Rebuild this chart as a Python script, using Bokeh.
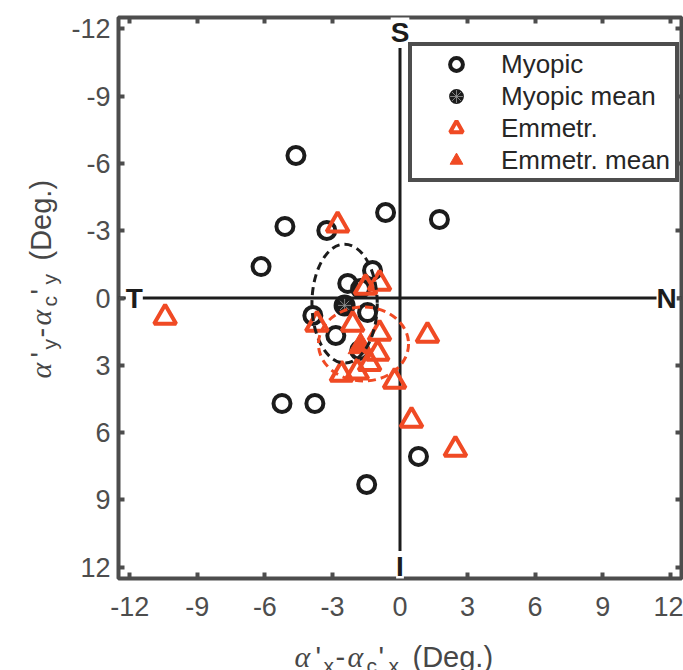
import math
from bokeh.plotting import figure
from bokeh.layouts import column, row
from bokeh.models import (Range1d, Span, Label, Legend, LegendItem, LinearAxis,
                          FixedTicker, ColumnDataSource)
from bokeh.embed import file_html
from bokeh.resources import INLINE

# ---------------- data ----------------
myopic_x = [-4.62, -5.11, -3.25, -0.64, 1.75, -6.17, -2.32, -1.75, -1.22,
            -1.44, -3.87, -2.85, -1.79, -5.24, -3.78, 0.82, -1.48]
myopic_y = [-6.35, -3.19, -3.01, -3.81, -3.50, -1.40, -0.65, -0.42, -1.23,
            0.65, 0.78, 1.67, 2.34, 4.70, 4.70, 7.06, 8.31]
myopic_mean_x = [-2.46]
myopic_mean_y = [0.33]

emm_x = [-10.43, -2.77, -0.91, -1.53, -3.69, -2.10, -0.91, 1.22, -0.99,
         -1.35, -2.60, -1.90, -0.24, 0.51, 2.46]
emm_y = [0.87, -3.25, -0.65, -0.47, 1.18, 1.18, 1.58, 1.67, 2.47,
         2.92, 3.40, 3.30, 3.72, 5.46, 6.75]
emm_mean_x = [-1.75]
emm_mean_y = [2.16]

# dispersion ellipses (centre, full width, full height)
myopic_ell_x = [-2.46]
myopic_ell_y = [0.25]
myopic_ell_w = [2.9]
myopic_ell_h = [5.3]
emm_ell_x = [-1.62]
emm_ell_y = [2.05]
emm_ell_w = [4.0]
emm_ell_h = [3.3]

tick_values = [-12, -9, -6, -3, 0, 3, 6, 9, 12]
tick_labels = ["-12", "-9", "-6", "-3", "0", "3", "6", "9", "12"]

dir_text = ["S", "T", "N", "I"]
dir_x = [0.0, -11.8, 11.84, 0.0]
dir_y = [-11.83, 0.0, 0.0, 11.96]

legend_labels = ["Myopic", "Myopic mean", "Emmetr.", "Emmetr. mean"]

# ---------------- styling ----------------
BLACK = "#1c1c1c"
RED = "#F04A24"
GRAY = "#4d4d4d"
LABEL_COLOR = "#474747"
SANS = "Liberation Sans"


def no_frame_align(f):
    if "frame_align" in type(f).properties():
        f.frame_align = False


p = figure(width=615, height=640,
           x_range=Range1d(-12.5, 12.5), y_range=Range1d(12.5, -12.5),
           output_backend="svg", toolbar_location=None,
           min_border_left=48, min_border_right=2,
           min_border_top=17, min_border_bottom=62)
no_frame_align(p)
p.grid.visible = False
p.background_fill_color = "white"
p.border_fill_color = "white"
p.outline_line_color = GRAY
p.outline_line_width = 4
p.outline_line_alpha = 1.0

overrides = {v: t for v, t in zip(tick_values, tick_labels)}


def style_axis(ax, show_labels=True):
    ax.ticker = FixedTicker(ticks=tick_values)
    ax.axis_line_color = None
    ax.major_tick_in = 6
    ax.major_tick_out = 0
    ax.major_tick_line_width = 4
    ax.major_tick_line_color = GRAY
    ax.minor_tick_line_color = None
    if show_labels:
        ax.major_label_overrides = overrides
        ax.major_label_text_font = SANS
        ax.major_label_text_font_size = "27px"
        ax.major_label_text_color = GRAY
    else:
        ax.major_label_overrides = {v: "" for v in tick_values}
        ax.major_label_text_font_size = "0px"
        ax.major_label_standoff = 0


style_axis(p.xaxis[0])
style_axis(p.yaxis[0])
p.xaxis[0].major_label_standoff = 18
p.yaxis[0].major_label_standoff = 8

for loc in ("above", "right"):
    ax = LinearAxis()
    style_axis(ax, show_labels=False)
    p.add_layout(ax, loc)

# zero lines
p.add_layout(Span(location=0, dimension="height", line_color=BLACK,
                  line_width=3, level="underlay"))
p.add_layout(Span(location=0, dimension="width", line_color=BLACK,
                  line_width=3, level="underlay"))

# markers
r_m = p.scatter(x="x", y="y", source=ColumnDataSource(dict(x=myopic_x, y=myopic_y)),
                marker="circle", size=17, fill_color=None, line_color=BLACK,
                line_width=4)
r_mm = p.scatter(x=myopic_mean_x, y=myopic_mean_y, marker="circle", size=20,
                 fill_color=BLACK, line_color=BLACK, line_width=2)
r_mm_star = p.scatter(x=myopic_mean_x, y=myopic_mean_y, marker="asterisk",
                      size=13, line_color="#9a9a9a", line_width=0.8)
r_e = p.scatter(x="x", y="y", source=ColumnDataSource(dict(x=emm_x, y=emm_y)),
                marker="triangle", size=22, fill_color=None, line_color=RED,
                line_width=4)
r_em = p.scatter(x=emm_mean_x, y=emm_mean_y, marker="triangle", size=25,
                 fill_color=RED, line_color=RED, line_width=1)

p.ellipse(x=myopic_ell_x, y=myopic_ell_y, width=myopic_ell_w, height=myopic_ell_h,
          fill_color=None, line_color=BLACK, line_width=3, line_dash="8 5")
p.ellipse(x=emm_ell_x, y=emm_ell_y, width=emm_ell_w, height=emm_ell_h,
          fill_color=None, line_color=RED, line_width=3, line_dash="8 5")

# direction letters
for t, x, y in zip(dir_text, dir_x, dir_y):
    p.add_layout(Label(x=x, y=y, text=t, text_font=SANS, text_font_style="bold",
                       text_font_size="28px", text_align="center",
                       text_baseline="middle", text_color=BLACK,
                       background_fill_color="white", background_fill_alpha=1.0,
                       level="overlay"))

# legend
legend = Legend(items=[
    LegendItem(label=legend_labels[0], renderers=[r_m]),
    LegendItem(label=legend_labels[1], renderers=[r_mm, r_mm_star]),
    LegendItem(label=legend_labels[2], renderers=[r_e]),
    LegendItem(label=legend_labels[3], renderers=[r_em]),
], location=(290, 396), orientation="vertical",
    glyph_width=84, glyph_height=32, label_standoff=3, label_width=172,
    label_height=20, spacing=0, padding=2, margin=0,
    border_line_color=GRAY, border_line_width=4, border_line_alpha=1.0,
    background_fill_color="white", background_fill_alpha=1.0,
    label_text_font=SANS, label_text_font_size="26px", label_text_color="#262626")
p.add_layout(legend)

# ---------------- axis titles (separate strips so they are not clipped) ----------------
FONTS = {
    "serif": ("Liberation Serif", "italic", "30px"),
    "sans": (SANS, "normal", "29px"),
    "sub": (SANS, "normal", "21px"),
}


def strip(w, h):
    f = figure(width=w, height=h, x_range=Range1d(0, w), y_range=Range1d(0, h),
               x_axis_type=None, y_axis_type=None, output_backend="svg",
               toolbar_location=None, min_border=0)
    no_frame_align(f)
    f.grid.visible = False
    f.outline_line_color = None
    f.background_fill_color = "white"
    f.border_fill_color = "white"
    return f


def axis_title(fig, sub, x0, y0, vertical):
    pieces = [("α", 0, 0, "serif"), ("'", 21, 0, "sans"), (sub, 29, 9, "sub"),
              ("-", 41, 0, "sans"), ("α", 53, 0, "serif"), ("c", 72, 9, "sub"),
              ("'", 84, 0, "sans"), (sub, 94, 9, "sub"), ("(Deg.)", 118, 0, "sans")]
    for txt, adv, drop, kind in pieces:
        font, style, size = FONTS[kind]
        if vertical:
            x, y, ang = x0 + drop, y0 + adv, math.pi / 2
        else:
            x, y, ang = x0 + adv, y0 - drop, 0.0
        fig.add_layout(Label(x=x, y=y, x_units="screen", y_units="screen", text=txt,
                             angle=ang, text_font=font, text_font_style=style,
                             text_font_size=size, text_color=LABEL_COLOR,
                             text_align="left", text_baseline="alphabetic"))


ylab = strip(68, 640)
axis_title(ylab, "y", 40, 262, vertical=True)

xlab = strip(683, 30)
axis_title(xlab, "x", 294, 14, vertical=False)

layout = column(row(ylab, p, spacing=0), xlab, spacing=0)

open("out.html", "w").write(file_html(layout, INLINE))
